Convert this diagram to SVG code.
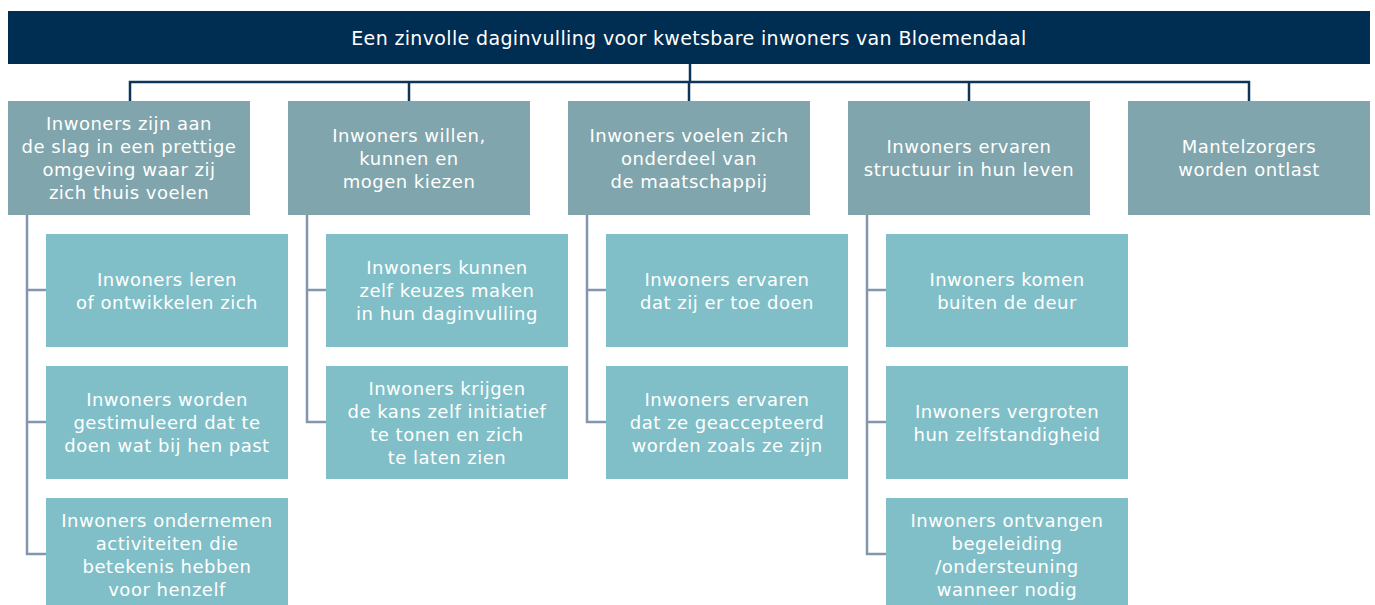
<svg xmlns="http://www.w3.org/2000/svg" width="1375" height="605" viewBox="0 0 1375 605">
<style>
.hdr{fill:#002d52}
.l1{fill:#80a5ac}
.l2{fill:#80bfc8}
text{font-family:"DejaVu Sans","Liberation Sans",sans-serif;fill:#ffffff;text-anchor:middle;font-size:18px;letter-spacing:0.5px}
.h{font-size:19px;letter-spacing:0.35px}
.top{stroke:#0e3558;stroke-width:2.5;fill:none}
.sub{stroke:#8496ae;stroke-width:2.5;fill:none}
</style>
<rect width="1375" height="605" fill="#ffffff"/>
<g id="connectors">
<path class="top" d="M690 63V82M130 101V82H1249V101M409 82V101M689 82V101M969 82V101"/>
<path class="sub" d="M27 215V554H46M27 290H46M27 422H46"/>
<path class="sub" d="M307 215V422H326M307 290H326"/>
<path class="sub" d="M587 215V422H606M587 290H606"/>
<path class="sub" d="M867 215V554H886M867 290H886M867 422H886"/>
</g>
<g id="root"><rect class="hdr" x="8" y="11" width="1362" height="53"/><text class="h" x="689" y="44.5">Een zinvolle daginvulling voor kwetsbare inwoners van Bloemendaal</text></g>
<g id="n1"><rect class="l1" x="8" y="101" width="242" height="114"/><text x="129" y="130">Inwoners zijn aan</text><text x="129" y="153">de slag in een prettige</text><text x="129" y="176">omgeving waar zij</text><text x="129" y="199">zich thuis voelen</text></g>
<g id="n2"><rect class="l1" x="288" y="101" width="242" height="114"/><text x="409" y="141.5">Inwoners willen,</text><text x="409" y="164.5">kunnen en</text><text x="409" y="187.5">mogen kiezen</text></g>
<g id="n3"><rect class="l1" x="568" y="101" width="242" height="114"/><text x="689" y="141.5">Inwoners voelen zich</text><text x="689" y="164.5">onderdeel van</text><text x="689" y="187.5">de maatschappij</text></g>
<g id="n4"><rect class="l1" x="848" y="101" width="242" height="114"/><text x="969" y="153">Inwoners ervaren</text><text x="969" y="176">structuur in hun leven</text></g>
<g id="n5"><rect class="l1" x="1128" y="101" width="242" height="114"/><text x="1249" y="153">Mantelzorgers</text><text x="1249" y="176">worden ontlast</text></g>
<g id="n1a"><rect class="l2" x="46" y="234" width="242" height="113"/><text x="167" y="285.5">Inwoners leren</text><text x="167" y="308.5">of ontwikkelen zich</text></g>
<g id="n1b"><rect class="l2" x="46" y="366" width="242" height="113"/><text x="167" y="406">Inwoners worden</text><text x="167" y="429">gestimuleerd dat te</text><text x="167" y="452">doen wat bij hen past</text></g>
<g id="n1c"><rect class="l2" x="46" y="498" width="242" height="113"/><text x="167" y="527">Inwoners ondernemen</text><text x="167" y="550">activiteiten die</text><text x="167" y="573">betekenis hebben</text><text x="167" y="596">voor henzelf</text></g>
<g id="n2a"><rect class="l2" x="326" y="234" width="242" height="113"/><text x="447" y="274">Inwoners kunnen</text><text x="447" y="297">zelf keuzes maken</text><text x="447" y="320">in hun daginvulling</text></g>
<g id="n2b"><rect class="l2" x="326" y="366" width="242" height="113"/><text x="447" y="395">Inwoners krijgen</text><text x="447" y="418">de kans zelf initiatief</text><text x="447" y="441">te tonen en zich</text><text x="447" y="464">te laten zien</text></g>
<g id="n3a"><rect class="l2" x="606" y="234" width="242" height="113"/><text x="727" y="285.5">Inwoners ervaren</text><text x="727" y="308.5">dat zij er toe doen</text></g>
<g id="n3b"><rect class="l2" x="606" y="366" width="242" height="113"/><text x="727" y="406">Inwoners ervaren</text><text x="727" y="429">dat ze geaccepteerd</text><text x="727" y="452">worden zoals ze zijn</text></g>
<g id="n4a"><rect class="l2" x="886" y="234" width="242" height="113"/><text x="1007" y="285.5">Inwoners komen</text><text x="1007" y="308.5">buiten de deur</text></g>
<g id="n4b"><rect class="l2" x="886" y="366" width="242" height="113"/><text x="1007" y="417.5">Inwoners vergroten</text><text x="1007" y="440.5">hun zelfstandigheid</text></g>
<g id="n4c"><rect class="l2" x="886" y="498" width="242" height="113"/><text x="1007" y="527">Inwoners ontvangen</text><text x="1007" y="550">begeleiding</text><text x="1007" y="573">/ondersteuning</text><text x="1007" y="596">wanneer nodig</text></g>
</svg>
